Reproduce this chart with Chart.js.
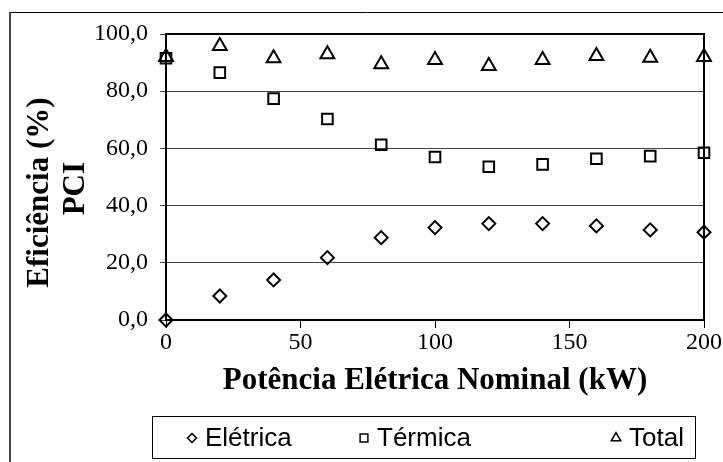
<!DOCTYPE html>
<html>
<head>
<meta charset="utf-8">
<script src="https://cdn.jsdelivr.net/npm/chart.js@4.4.0/dist/chart.umd.min.js"></script>
<style>
  html, body { margin: 0; padding: 0; background: #fff; }
  #wrap { width: 723px; height: 462px; }
</style>
</head>
<body>
<div id="wrap"><canvas id="chart" width="723" height="462"></canvas></div>
<script>
// data
const potencia = [0, 20, 40, 60, 80, 100, 120, 140, 160, 180, 200];
const eletrica = [0.0, 8.4, 14.0, 21.8, 28.8, 32.3, 33.7, 33.7, 32.9, 31.5, 30.7];
const termica = [91.5, 86.5, 77.4, 70.3, 61.3, 57.0, 53.6, 54.4, 56.4, 57.3, 58.5];
const total = [92.0, 95.8, 91.5, 92.9, 89.4, 90.9, 88.8, 90.9, 92.3, 91.7, 92.0];
const seriesNames = ['Elétrica', 'Térmica', 'Total'];
const yTickLabels = ['0,0', '20,0', '40,0', '60,0', '80,0', '100,0'];
const xTickLabels = ['0', '50', '100', '150', '200'];

const toXY = (vals) => vals.map((v, i) => ({ x: potencia[i], y: v }));

const serif = "'Liberation Serif', 'Times New Roman', serif";
const sans = "'Liberation Sans', Arial, sans-serif";

// frame of the whole chart (left + top edges) and the plot box
const framePlugin = {
  id: 'frame',
  beforeDraw(chart) {
    const ctx = chart.ctx;
    ctx.save();
    ctx.strokeStyle = '#000';
    ctx.lineWidth = 1;
    ctx.beginPath();
    ctx.moveTo(10, 12.5);
    ctx.lineTo(723, 12.5);
    ctx.stroke();
    ctx.strokeStyle = '#444';
    ctx.lineWidth = 2;
    ctx.beginPath();
    ctx.moveTo(10, 12);
    ctx.lineTo(10, 462);
    ctx.stroke();
    ctx.restore();
  },
  beforeDatasetsDraw(chart) {
    const { ctx, chartArea: a } = chart;
    ctx.save();
    ctx.strokeStyle = '#000';
    ctx.lineWidth = 2;
    ctx.strokeRect(a.left, a.top, a.right - a.left, a.bottom - a.top);
    ctx.restore();
  }
};

// boxed legend under the axis title
const boxLegend = {
  id: 'boxLegend',
  afterDraw(chart) {
    const ctx = chart.ctx;
    const box = { l: 152.5, t: 416.5, r: 695.5, b: 458.5 };
    const markerX = [192, 364, 616];
    const radii = { rectRot: 4.5, rect: 5.5, triangle: 5.5 };
    const cy = 438;
    ctx.save();
    ctx.strokeStyle = '#000';
    ctx.lineWidth = 1;
    ctx.strokeRect(box.l, box.t, box.r - box.l, box.b - box.t);
    chart.data.datasets.forEach((ds, i) => {
      ctx.fillStyle = '#fff';
      ctx.strokeStyle = '#000';
      ctx.lineWidth = 1.5;
      Chart.helpers.drawPoint(ctx, {
        pointStyle: ds.pointStyle,
        radius: radii[ds.pointStyle],
        borderWidth: 1.5
      }, markerX[i], cy);
      ctx.font = '26px ' + sans;
      ctx.fillStyle = '#000';
      ctx.textBaseline = 'middle';
      ctx.fillText(ds.label, markerX[i] + 13, cy + 1);
    });
    ctx.restore();
  }
};

const pointCommon = {
  showLine: false,
  borderColor: '#000',
  backgroundColor: 'transparent',
  pointBorderWidth: 2,
  clip: false
};

new Chart(document.getElementById('chart'), {
  type: 'scatter',
  data: {
    datasets: [
      { ...pointCommon, label: seriesNames[0], data: toXY(eletrica), pointStyle: 'rectRot', pointRadius: 6.5, pointHoverRadius: 6.5 },
      { ...pointCommon, label: seriesNames[1], data: toXY(termica), pointStyle: 'rect', pointRadius: 7.5, pointHoverRadius: 7.5 },
      { ...pointCommon, label: seriesNames[2], data: toXY(total), pointStyle: 'triangle', pointRadius: 8, pointHoverRadius: 8 }
    ]
  },
  options: {
    responsive: false,
    animation: false,
    layout: { padding: { left: 0, right: 19, top: 34, bottom: 0 } },
    plugins: {
      legend: { display: false },
      tooltip: { enabled: false }
    },
    scales: {
      x: {
        type: 'linear',
        min: 0,
        max: 200,
        afterBuildTicks(scale) {
          scale.ticks = xTickLabels.map(t => ({ value: Number(t) }));
        },
        afterFit(scale) { scale.height = 142; },
        grid: { drawOnChartArea: false, drawTicks: true, tickLength: 8, color: '#000', lineWidth: 1 },
        border: { display: false },
        ticks: {
          color: '#000',
          padding: 0,
          maxRotation: 0,
          font: { family: serif, size: 24 },
          callback: (v, i) => xTickLabels[i]
        },
        title: {
          display: true,
          text: 'Potência Elétrica Nominal (kW)',
          color: '#000',
          font: { family: serif, size: 31, weight: 'bold', lineHeight: 1.2 },
          padding: { top: 0, bottom: 62 }
        }
      },
      y: {
        min: 0,
        max: 100,
        afterBuildTicks(scale) {
          scale.ticks = yTickLabels.map((t, i) => ({ value: i * 20 }));
        },
        afterFit(scale) { scale.width = 166; },
        grid: { color: '#444', lineWidth: 1, tickLength: 6, drawTicks: true },
        border: { display: false },
        ticks: {
          color: '#000',
          padding: 12,
          font: { family: serif, size: 24 },
          callback: (v, i) => yTickLabels[i]
        },
        title: {
          display: true,
          // trailing spaces nudge each rotated line down a little, as in the original
          text: ['Eficiência (%)    ', 'PCI   '],
          color: '#000',
          font: { family: serif, size: 31, weight: 'bold', lineHeight: 1.16 },
          padding: { top: 22, bottom: 0 }
        }
      }
    }
  },
  plugins: [framePlugin, boxLegend]
});
</script>
</body>
</html>
